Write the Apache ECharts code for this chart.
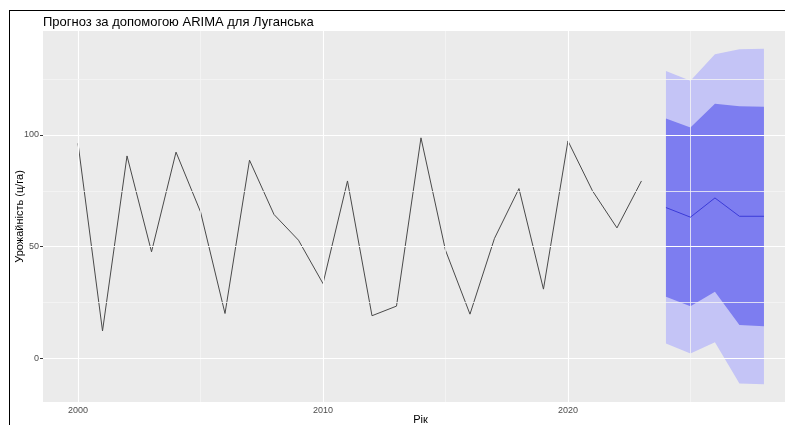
<!DOCTYPE html>
<html>
<head>
<meta charset="utf-8">
<script src="https://cdn.jsdelivr.net/npm/echarts@6/dist/echarts.min.js"></script>
<style>html,body{margin:0;padding:0;background:#fff}#c{width:785px;height:425px}</style>
</head>
<body>
<div id="c"></div>
<script>
// ---- data ----
const HIST_YEARS = [2000,2001,2002,2003,2004,2005,2006,2007,2008,2009,2010,2011,2012,2013,2014,2015,2016,2017,2018,2019,2020,2021,2022,2023];
const HIST_VALUES = [96.2,12.3,90.6,47.7,92.3,65.6,20.1,88.7,64.4,52.9,33.5,79.4,19.1,23.4,98.7,48.4,19.8,53.7,76.0,31.0,97.3,75.0,58.4,79.4];
const FC_YEARS = [2024,2025,2026,2027,2028];
const FC_MEAN = [67.5,63.2,71.8,63.6,63.6];
const FC_LO80 = [27.6,23.3,29.8,14.9,14.4];
const FC_HI80 = [107.3,103.3,114.0,112.8,112.6];
const FC_LO95 = [6.7,2.2,7.2,-11.2,-11.6];
const FC_HI95 = [128.6,124.2,136.1,138.3,138.6];
const X_TICKS = [2000,2010,2020];
const X_MINOR = [2005,2015,2025];
const Y_TICKS = [0,50,100];
const Y_MINOR = [25,75,125];
const TITLE = 'Прогноз за допомогою ARIMA для Луганська';
const X_NAME = 'Рік';
const Y_NAME = 'Урожайність (ц/га)';

const chart = echarts.init(document.getElementById('c'), null, {renderer:'canvas'});

function bandSeries(lo, hi, color, z) {
  return {
    type: 'custom',
    z: z,
    silent: true,
    data: FC_YEARS.map((y,i)=>[y, lo[i], hi[i]]),
    encode: {x: 0, y: [1,2]},
    renderItem: function(params, api) {
      if (params.dataIndex !== 0) return null;
      const pts = [];
      for (let i = 0; i < FC_YEARS.length; i++) pts.push(api.coord([FC_YEARS[i], hi[i]]));
      for (let i = FC_YEARS.length - 1; i >= 0; i--) pts.push(api.coord([FC_YEARS[i], lo[i]]));
      return {type: 'polygon', shape: {points: pts}, style: {fill: color, stroke: null}};
    }
  };
}

const gridMarks = [];
X_TICKS.forEach(v=>gridMarks.push({xAxis: v, lineStyle:{color:'#ffffff', width:1.1, type:'solid'}}));
X_MINOR.forEach(v=>gridMarks.push({xAxis: v, lineStyle:{color:'#f5f5f5', width:0.8, type:'solid'}}));
Y_TICKS.forEach(v=>gridMarks.push({yAxis: v, lineStyle:{color:'#ffffff', width:1.1, type:'solid'}}));
Y_MINOR.forEach(v=>gridMarks.push({yAxis: v, lineStyle:{color:'#f5f5f5', width:0.8, type:'solid'}}));

const option = {
  animation: false,
  backgroundColor: '#ffffff',
  textStyle: {fontFamily: 'Liberation Sans, Arial, sans-serif'},
  title: {
    text: TITLE, left: 43, top: 16, padding: 0,
    textStyle: {fontSize: 13, fontWeight: 'normal', color: '#000', fontFamily: 'Liberation Sans, Arial, sans-serif'}
  },
  grid: {left: 43, top: 31, width: 742, height: 371, show: true, backgroundColor: '#ebebeb', borderWidth: 0,
         containLabel: false, outerBoundsMode: 'none'},
  xAxis: {
    type: 'value', min: 1998.57, max: 2028.86,
    name: X_NAME, nameLocation: 'middle', nameGap: 12, nameMoveOverlap: false,
    nameTextStyle: {fontSize: 11, color: '#000', verticalAlign: 'top', padding: [0,0,0,13]},
    axisLine: {show: false},
    axisTick: {show: true, customValues: X_TICKS, length: 3, lineStyle: {color: '#333'}},
    axisLabel: {customValues: X_TICKS, fontSize: 9, color: '#4d4d4d', margin: 4, formatter: v => String(v)},
    splitLine: {show: false}
  },
  yAxis: {
    type: 'value', min: -19.5, max: 146.5,
    name: Y_NAME, nameLocation: 'middle', nameGap: 18, nameMoveOverlap: false,
    nameTextStyle: {fontSize: 11, color: '#000'},
    axisLine: {show: false},
    axisTick: {show: true, customValues: Y_TICKS, length: 3, lineStyle: {color: '#333'}},
    axisLabel: {customValues: Y_TICKS, fontSize: 9, color: '#4d4d4d', margin: 4, formatter: v => String(v)},
    splitLine: {show: false}
  },
  graphic: [
    {type: 'line', shape: {x1: 9.5, y1: 10, x2: 9.5, y2: 425}, style: {stroke: '#000', lineWidth: 1}, z: 100},
    {type: 'line', shape: {x1: 9, y1: 10.5, x2: 785, y2: 10.5}, style: {stroke: '#000', lineWidth: 1}, z: 100}
  ],
  series: [
    {
      type: 'line', z: 1, silent: true, symbol: 'none',
      data: HIST_YEARS.map((y,i)=>[y, HIST_VALUES[i]]),
      lineStyle: {opacity: 0},
      markLine: {silent: true, symbol: ['none','none'], label: {show: false}, animation: false, data: gridMarks}
    },
    bandSeries(FC_LO95, FC_HI95, '#c4c4f6', 2),
    bandSeries(FC_LO80, FC_HI80, '#7d7df0', 3),
    {
      type: 'line', z: 4, symbol: 'none', silent: true,
      data: HIST_YEARS.map((y,i)=>[y, HIST_VALUES[i]]),
      lineStyle: {color: '#4a4a4a', width: 1}
    },
    {
      type: 'line', z: 5, symbol: 'none', silent: true,
      data: FC_YEARS.map((y,i)=>[y, FC_MEAN[i]]),
      lineStyle: {color: '#3b3bd8', width: 1}
    }
  ]
};
chart.setOption(option);
</script>
</body>
</html>
